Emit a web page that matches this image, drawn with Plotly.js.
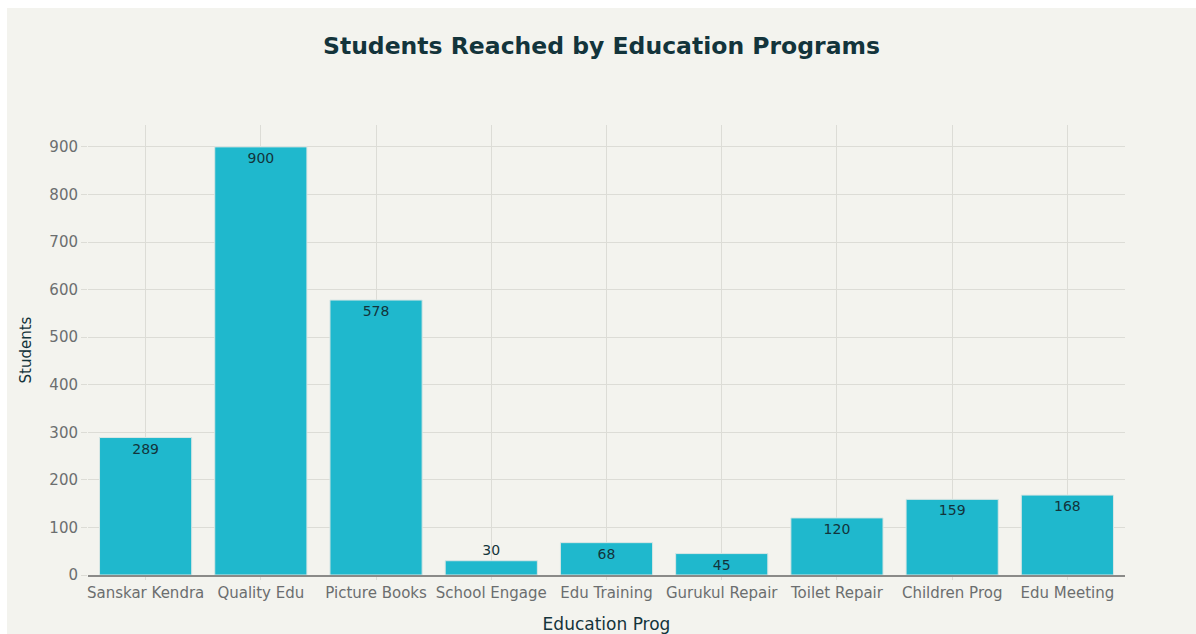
<!DOCTYPE html>
<html>
<head>
<meta charset="utf-8">
<script src="https://cdn.plot.ly/plotly-3.0.1.min.js"></script>
<style>
html, body { margin: 0; padding: 0; background: #ffffff; }
#chart { position: absolute; left: 7px; top: 8px; width: 1189px; height: 626px; }
</style>
</head>
<body>
<div id="chart"></div>
<script>
const categories = ["Sanskar Kendra", "Quality Edu", "Picture Books", "School Engage", "Edu Training", "Gurukul Repair", "Toilet Repair", "Children Prog", "Edu Meeting"];
const students = [289, 900, 578, 30, 68, 45, 120, 159, 168];

const FONT = "'DejaVu Sans', 'Liberation Sans', sans-serif";

const trace = {
  type: "bar",
  x: categories,
  y: students,
  text: students.map(String),
  textposition: students.map(v => (v < 40 ? "outside" : "inside")),
  insidetextanchor: "end",
  constraintext: "none",
  textfont: { family: FONT, size: 14, color: "#13343B" },
  marker: { color: "#1FB8CD", line: { color: "#d8e6e4", width: 1 } },
  cliponaxis: false,
  hoverinfo: "x+y"
};

const layout = {
  width: 1189,
  height: 626,
  paper_bgcolor: "#F3F3EE",
  plot_bgcolor: "#F3F3EE",
  margin: { l: 81, r: 71, t: 117, b: 59 },
  bargap: 0.2,
  title: {
    text: "<b>Students Reached by Education Programs</b>",
    x: 0.5,
    xanchor: "center",
    y: 0.94,
    yanchor: "middle",
    font: { family: FONT, size: 23.5, color: "#13343B" }
  },
  font: { family: FONT, color: "#13343B" },
  xaxis: {
    title: { text: "Education Prog", font: { family: FONT, size: 17, color: "#13343B" }, standoff: 17 },
    tickfont: { family: FONT, size: 15, color: "#6b6e6f" },
    showgrid: true,
    gridcolor: "#dcdcd6",
    ticks: "outside",
    ticklen: 3,
    tickcolor: "#dcdcd6",
    showline: true,
    linecolor: "#8a8a88",
    linewidth: 2
  },
  yaxis: {
    title: { text: "Students", font: { family: FONT, size: 15, color: "#13343B" }, standoff: 14 },
    tickfont: { family: FONT, size: 15, color: "#6b6e6f" },
    range: [0, 946],
    dtick: 100,
    showgrid: true,
    gridcolor: "#dcdcd6",
    ticks: "outside",
    ticklen: 6,
    tickcolor: "#dcdcd6",
    zeroline: false,
    showline: false
  },
  showlegend: false
};

Plotly.newPlot("chart", [trace], layout, { displayModeBar: false, responsive: false });
</script>
</body>
</html>
